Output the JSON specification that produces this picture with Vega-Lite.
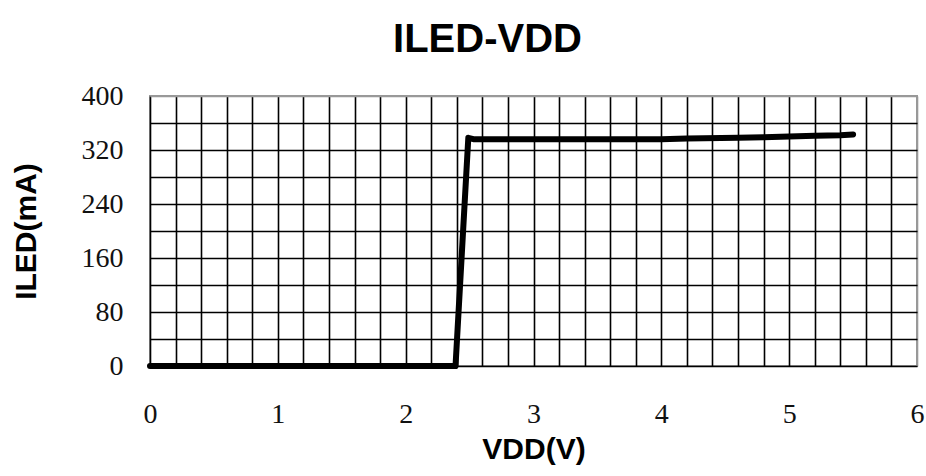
{
  "$schema": "https://vega.github.io/schema/vega-lite/v6.json",
  "width": 767,
  "height": 270,
  "autosize": {"type": "none"},
  "padding": {"left": 150, "top": 96, "right": 9, "bottom": 110},
  "background": "white",
  "title": {
    "text": "ILED-VDD",
    "font": "Liberation Sans",
    "fontSize": 40,
    "fontWeight": "bold",
    "color": "#000",
    "anchor": "middle",
    "frame": "group",
    "dx": -46,
    "baseline": "alphabetic",
    "offset": -10
  },
  "config": {
    "view": {"stroke": "#999", "strokeWidth": 2},
    "axis": {
      "labelFont": "Liberation Serif",
      "labelFontSize": 28,
      "labelColor": "#111",
      "titleFont": "Liberation Sans",
      "titleFontSize": 30,
      "titleFontWeight": "bold",
      "titleColor": "#000",
      "ticks": false,
      "domain": false,
      "gridColor": "#000",
      "gridWidth": 1.6,
      "gridOpacity": 1
    }
  },
  "data": {
    "values": [
      {"VDD": 0, "ILED": 0},
      {"VDD": 1.0, "ILED": 0},
      {"VDD": 2.0, "ILED": 0},
      {"VDD": 2.33, "ILED": 0},
      {"VDD": 2.39, "ILED": 0},
      {"VDD": 2.49, "ILED": 338},
      {"VDD": 2.53, "ILED": 336},
      {"VDD": 3.0, "ILED": 336},
      {"VDD": 3.5, "ILED": 336},
      {"VDD": 4.0, "ILED": 336},
      {"VDD": 4.2, "ILED": 337},
      {"VDD": 4.6, "ILED": 338},
      {"VDD": 4.8, "ILED": 339},
      {"VDD": 5.0, "ILED": 340},
      {"VDD": 5.2, "ILED": 341},
      {"VDD": 5.4, "ILED": 342},
      {"VDD": 5.5, "ILED": 343}
    ]
  },
  "mark": {"type": "line", "color": "#000", "strokeWidth": 6, "strokeCap": "round", "strokeJoin": "round"},
  "encoding": {
    "x": {
      "field": "VDD",
      "type": "quantitative",
      "scale": {"domain": [0, 6], "nice": false, "zero": false},
      "axis": {
        "title": "VDD(V)",
        "values": [0, 0.2, 0.4, 0.6, 0.8, 1, 1.2, 1.4, 1.6, 1.8, 2, 2.2, 2.4, 2.6, 2.8, 3, 3.2, 3.4, 3.6, 3.8, 4, 4.2, 4.4, 4.6, 4.8, 5, 5.2, 5.4, 5.6, 5.8, 6],
        "labelExpr": "datum.value == round(datum.value) ? format(datum.value, 'd') : ''",
        "labelPadding": 34,
        "titlePadding": 6,
        "gridColor": {"condition": {"test": "datum.value == 6", "value": "#999"}, "value": "#000"},
        "labelFlush": false,
        "labelOverlap": false
      }
    },
    "y": {
      "field": "ILED",
      "type": "quantitative",
      "scale": {"domain": [0, 400], "nice": false},
      "axis": {
        "title": "ILED(mA)",
        "values": [0, 40, 80, 120, 160, 200, 240, 280, 320, 360, 400],
        "labelExpr": "datum.value % 80 == 0 ? format(datum.value, 'd') : ''",
        "labelPadding": 27,
        "titlePadding": 40,
        "gridColor": {"condition": {"test": "datum.value == 400", "value": "#999"}, "value": "#000"},
        "labelOverlap": false
      }
    }
  }
}
